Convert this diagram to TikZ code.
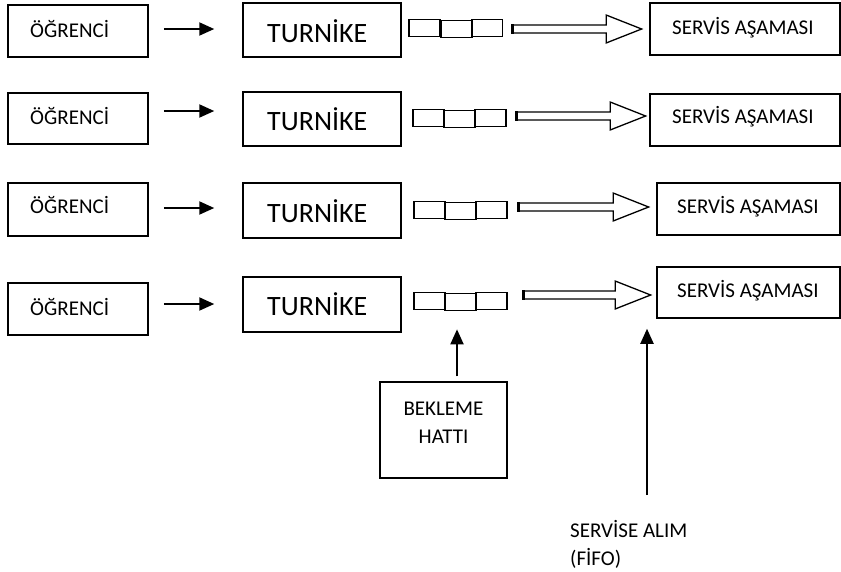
\documentclass[tikz,border=0pt]{standalone}
\usepackage{fontspec}
\setmainfont{Carlito}
\usetikzlibrary{arrows.meta,shapes.arrows,calc}
\begin{document}
\begin{tikzpicture}[x=1pt,y=-1pt,
  box/.style={draw, line width=1.5pt, inner sep=0pt, rectangle},
  small/.style={font=\fontsize{21}{25}\selectfont, inner sep=0pt, anchor=base west},
  big/.style={font=\fontsize{28}{33}\selectfont, inner sep=0pt, anchor=base west},
  qbox/.style={draw, line width=1.7pt, inner sep=0pt, minimum width=31pt, minimum height=17pt},
  harrow/.style={single arrow, draw, line width=1.3pt, inner xsep=0pt, inner ysep=3.3pt,
    single arrow head extend=10pt, single arrow tip angle=43, anchor=tail},
  flow/.style={-{Triangle[length=15pt,width=13pt]}, line width=2pt}]
\useasboundingbox (0,0) rectangle (841,571);

% OGRENCI boxes
\node[box, minimum width=140pt, minimum height=52pt] (o1) at (78,31) {};
\node[box, minimum width=140pt, minimum height=51pt] (o2) at (78,118.5) {};
\node[box, minimum width=140pt, minimum height=53pt] (o3) at (78,209.5) {};
\node[box, minimum width=140pt, minimum height=52pt] (o4) at (78,309) {};
\node[small] (ot1) at (30,37) {ÖĞRENCİ};
\node[small] (ot2) at (30,124) {ÖĞRENCİ};
\node[small] (ot3) at (30,213) {ÖĞRENCİ};
\node[small] (ot4) at (30,315) {ÖĞRENCİ};

% TURNIKE boxes
\node[box, minimum width=158pt, minimum height=54pt] (t1) at (322,30) {};
\node[box, minimum width=158pt, minimum height=54pt] (t2) at (322,119) {};
\node[box, minimum width=158pt, minimum height=55pt] (t3) at (322,210.5) {};
\node[box, minimum width=158pt, minimum height=55pt] (t4) at (322,304.5) {};
\node[big] (tt1) at (267,42) {TURNİKE};
\node[big] (tt2) at (267,130) {TURNİKE};
\node[big] (tt3) at (267,222) {TURNİKE};
\node[big] (tt4) at (267,315) {TURNİKE};

% SERVIS boxes
\node[box, minimum width=190pt, minimum height=52pt] (s1) at (745,29) {};
\node[box, minimum width=190pt, minimum height=52pt] (s2) at (745,120) {};
\node[box, minimum width=183pt, minimum height=52pt] (s3) at (748.5,209) {};
\node[box, minimum width=183pt, minimum height=51pt] (s4) at (748.5,292.5) {};
\node[small] (st1) at (672,34) {SERVİS AŞAMASI};
\node[small] (st2) at (672,123) {SERVİS AŞAMASI};
\node[small] (st3) at (677,213) {SERVİS AŞAMASI};
\node[small] (st4) at (677,297) {SERVİS AŞAMASI};

% queue boxes
\node[qbox] (q1a) at (424.5,28) {};
\node[qbox] (q1b) at (456.5,29) {};
\node[qbox] (q1c) at (487,28) {};
\node[qbox] (q2a) at (428.5,118) {};
\node[qbox] (q2b) at (459.5,119) {};
\node[qbox] (q2c) at (490.5,118) {};
\node[qbox] (q3a) at (429.5,210) {};
\node[qbox] (q3b) at (460.5,211) {};
\node[qbox] (q3c) at (491.5,210) {};
\node[qbox] (q4a) at (429.5,301) {};
\node[qbox] (q4b) at (460.5,302) {};
\node[qbox] (q4c) at (491.5,301) {};

% hollow block arrows
\node[harrow, minimum height=130pt] (h1) at (511,29) {};
\node[harrow, minimum height=130pt] (h2) at (515,116) {};
\node[harrow, minimum height=131pt] (h3) at (517,207) {};
\node[harrow, minimum height=128pt] (h4) at (522,295) {};
\foreach \h in {h1,h2,h3,h4}{
  \draw[line width=3pt] ($(\h.before tail)+(1.5,0)$) -- ($(\h.after tail)+(1.5,0)$);
}

% black arrows
\draw[flow] ($(o1.east)+(15,-2)$) -- ($(t1.west)+(-28,-1)$);
\draw[flow] ($(o2.east)+(15,-7.5)$) -- ($(t2.west)+(-28,-8)$);
\draw[flow] ($(o3.east)+(15,-1.5)$) -- ($(t3.west)+(-28,-2.5)$);
\draw[flow] ($(o4.east)+(15,-5)$) -- ($(t4.west)+(-28,-0.5)$);

% BEKLEME HATTI
\node[box, minimum width=127pt, minimum height=96pt] (b) at (443.5,430) {};
\node[font=\fontsize{21}{25}\selectfont, inner sep=0pt, anchor=base] (bt1) at (443.5,415) {BEKLEME};
\node[font=\fontsize{21}{25}\selectfont, inner sep=0pt, anchor=base] (bt2) at (443.5,443) {HATTI};
\draw[flow] ($(b.north)+(13.5,-5)$) -- ($(q4b.south)+(-3.5,18)$);

% SERVISE ALIM (FIFO)
\node[small] (f1) at (570,537) {SERVİSE ALIM};
\node[small] (f2) at (570,565) {(FİFO)};
\coordinate (ftail) at (647,495);
\draw[flow] (ftail) -- ($(s4.south)+(-101.5,10)$);
\end{tikzpicture}
\end{document}
